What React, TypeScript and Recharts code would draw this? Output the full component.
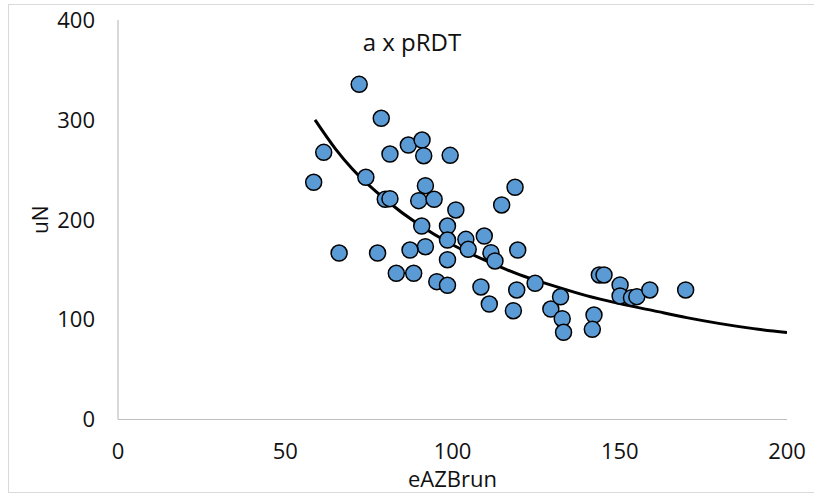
import React from "react";
import { ComposedChart, Scatter, Line, XAxis, YAxis, Label } from "recharts";

const pointX = [72.1, 78.7, 61.5, 58.5, 74.1, 81.3, 86.8, 90.9, 91.4, 99.3, 118.7, 114.7, 79.9, 81.3, 91.9, 89.9, 94.5, 101.0, 90.8, 98.5, 98.5, 104.0, 104.7, 109.5, 111.5, 112.7, 119.5, 91.9, 87.3, 77.6, 66.1, 83.2, 88.4, 98.5, 95.3, 98.5, 108.5, 111.0, 118.2, 119.2, 124.7, 129.4, 132.3, 132.8, 133.2, 142.3, 141.8, 143.9, 145.3, 150.1, 150.1, 153.5, 155.1, 159.0, 169.7];
const pointY = [335.6, 301.6, 267.5, 237.5, 242.5, 265.8, 274.8, 279.8, 264.1, 264.5, 232.5, 214.8, 220.5, 221.1, 234.1, 219.1, 220.5, 209.8, 193.7, 193.7, 179.7, 180.4, 170.4, 183.7, 167.0, 158.7, 169.7, 173.0, 169.7, 166.7, 166.7, 146.4, 146.4, 160.0, 138.0, 134.4, 132.7, 115.6, 108.9, 129.7, 136.4, 110.6, 122.9, 100.9, 87.3, 104.6, 90.3, 144.7, 144.7, 134.7, 123.7, 122.0, 123.0, 129.7, 129.7];

const trendX = [58.9, 65, 70, 80, 90, 100, 110, 120, 130, 140, 150, 160, 170, 180, 190, 200];
const trendY = [300, 271, 251, 220, 195, 175, 159, 145, 134, 124, 116, 109, 102, 96, 91, 87];

const xTicks = [0, 50, 100, 150, 200];
const yTicks = [0, 100, 200, 300, 400];

const title = "a x pRDT";
const xTitle = "eAZBrun";
const yTitle = "uN";

const points = pointX.map((x, i) => ({ x, y: pointY[i] }));
const trend = trendX.map((x, i) => ({ x, y: trendY[i] }));

const FONT = "'Open Sans', 'Noto Sans', sans-serif";
const TEXT = "#111";

const Dot = (props: any) => (
  <circle cx={props.cx} cy={props.cy} r={8} fill="#5B9BD5" stroke="#000" strokeWidth={1.5} />
);

export default function App() {
  return (
    <div style={{ position: "absolute", left: 0, top: 0, width: 814, height: 495, background: "#fff" }}>
      <div
        style={{
          position: "absolute",
          left: 8,
          top: 4,
          width: 812,
          height: 489,
          border: "1px solid #d9d9d9",
          boxSizing: "border-box",
        }}
      />
      <ComposedChart
        width={814}
        height={495}
        margin={{ top: 20, right: 27, bottom: 5.5, left: 0 }}
        style={{ position: "absolute", left: 0, top: 0 }}
      >
        <XAxis
          type="number"
          dataKey="x"
          domain={[0, 200]}
          ticks={xTicks}
          interval={0}
          height={70}
          tickLine={false}
          tickSize={0}
          tickMargin={24}
          axisLine={{ stroke: "#bfbfbf", strokeWidth: 1.2 }}
          tick={{ fill: TEXT, fontSize: 22, fontFamily: FONT }}
          allowDataOverflow
        >
          <Label
            content={(p: any) => {
              const vb = p.viewBox;
              return (
                <text
                  x={vb.x + vb.width / 2}
                  y={vb.y + 67.5}
                  textAnchor="middle"
                  fill={TEXT}
                  fontSize={22}
                  fontFamily={FONT}
                >
                  {xTitle}
                </text>
              );
            }}
          />
        </XAxis>
        <YAxis
          type="number"
          dataKey="y"
          domain={[0, 400]}
          ticks={yTicks}
          interval={0}
          width={118}
          tickLine={false}
          tickSize={0}
          tickMargin={23}
          axisLine={{ stroke: "#bfbfbf", strokeWidth: 1.2 }}
          tick={{ fill: TEXT, fontSize: 22, fontFamily: FONT }}
          allowDataOverflow
        >
          <Label
            content={(p: any) => {
              const vb = p.viewBox;
              const cx = 40;
              const cy = vb.y + vb.height / 2;
              return (
                <text
                  x={cx}
                  y={cy}
                  transform={`rotate(-90, ${cx}, ${cy})`}
                  textAnchor="middle"
                  dominantBaseline="central"
                  fill={TEXT}
                  fontSize={21}
                  fontFamily={FONT}
                >
                  {yTitle}
                </text>
              );
            }}
          />
        </YAxis>
        <Scatter data={points} dataKey="y" shape={Dot} isAnimationActive={false} />
        <Line
          data={trend}
          dataKey="y"
          type="monotone"
          stroke="#000"
          strokeWidth={3}
          dot={false}
          activeDot={false}
          isAnimationActive={false}
        />
      </ComposedChart>
      <div
        style={{
          position: "absolute",
          left: 312,
          top: 30,
          width: 200,
          textAlign: "center",
          fontFamily: FONT,
          fontSize: 24,
          lineHeight: "24px",
          color: TEXT,
          whiteSpace: "nowrap",
        }}
      >
        {title}
      </div>
    </div>
  );
}
